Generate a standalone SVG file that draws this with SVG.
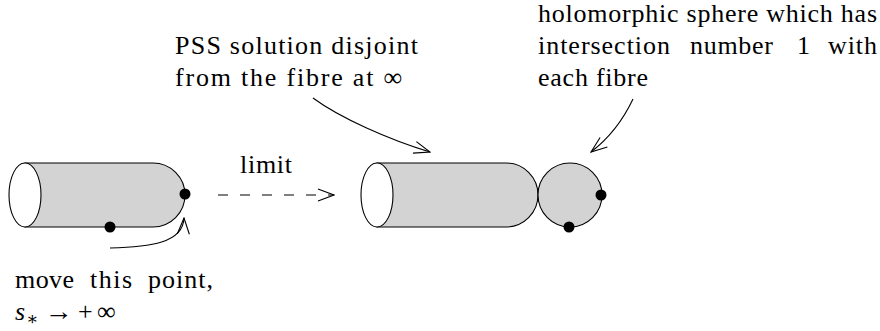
<svg xmlns="http://www.w3.org/2000/svg" width="880" height="331" viewBox="0 0 880 331">
<style>
  .body { fill: #d3d3d3; stroke: #000; stroke-width: 1.1; }
  .end { fill: #fff; stroke: #000; stroke-width: 1.1; }
  .dot { fill: #000; }
  .conn { fill: none; stroke: #000; stroke-width: 1.1; }
  .dash { stroke-dasharray: 10 12; }
  .t { font-family: "Liberation Serif", "DejaVu Serif", serif; font-size: 26px; fill: #000; }
</style>
<defs>
  <marker id="open" viewBox="0 0 18 14" refX="17" refY="7" markerWidth="18" markerHeight="14" markerUnits="userSpaceOnUse" orient="auto">
    <path d="M1,1 L17,7 L1,13" fill="none" stroke="#000" stroke-width="1.1"/>
  </marker>
</defs>

<g id="left-cylinder">
  <path class="body" d="M25,163 L153,163 A32,32 0 0 1 153,227 L25,227 Z"/>
  <ellipse class="end" cx="25" cy="195" rx="16" ry="32"/>
  <circle class="dot" cx="185" cy="194" r="5.5"/>
  <circle class="dot" cx="110" cy="227" r="5.5"/>
</g>

<g id="right-cylinder">
  <path class="body" d="M377,163 L506,163 A32,32 0 0 1 506,227 L377,227 Z"/>
  <ellipse class="end" cx="377" cy="195" rx="16" ry="32"/>
</g>

<g id="sphere">
  <circle class="body" cx="570" cy="195" r="32"/>
  <circle class="dot" cx="601" cy="195" r="5.5"/>
  <circle class="dot" cx="569" cy="227" r="5.5"/>
</g>

<g id="label-pss">
  <text class="t" x="175" y="54" textLength="243" lengthAdjust="spacing">PSS solution disjoint</text>
  <text class="t" x="175" y="86" textLength="227" lengthAdjust="spacing">from the fibre at ∞</text>
</g>

<g id="label-sphere">
  <text class="t" x="538" y="22" textLength="339" lengthAdjust="spacing">holomorphic sphere which has</text>
  <text class="t" y="54"><tspan x="538" textLength="132" lengthAdjust="spacing">intersection</tspan><tspan x="690" textLength="83" lengthAdjust="spacing">number</tspan><tspan x="797">1</tspan><tspan x="828" textLength="49" lengthAdjust="spacing">with</tspan></text>
  <text class="t" x="538" y="86" textLength="110" lengthAdjust="spacing">each fibre</text>
</g>

<g id="label-limit">
  <text class="t" x="240" y="173" textLength="52" lengthAdjust="spacing">limit</text>
</g>

<g id="label-move">
  <text class="t" y="288"><tspan x="15" textLength="59" lengthAdjust="spacing">move</tspan><tspan x="90" textLength="42" lengthAdjust="spacing">this</tspan><tspan x="148" textLength="65" lengthAdjust="spacing">point,</tspan></text>
  <text class="t" y="320"><tspan x="15" font-style="italic">s</tspan><tspan x="26" dy="5" font-size="18">∗</tspan><tspan x="45" dy="-5" textLength="28" lengthAdjust="spacingAndGlyphs">→</tspan><tspan x="78">+</tspan><tspan x="97">∞</tspan></text>
</g>

<g id="connectors">
  <path class="conn dash" d="M218,195 L334,195" marker-end="url(#open)"/>
  <path class="conn" d="M313,98 C340,118 390,140 430,152" marker-end="url(#open)"/>
  <path class="conn" d="M633,99 C624,118 612,136 591,152" marker-end="url(#open)"/>
  <path class="conn" d="M110,248 C150,247 183,243 184,218" marker-end="url(#open)"/>
</g>
</svg>
